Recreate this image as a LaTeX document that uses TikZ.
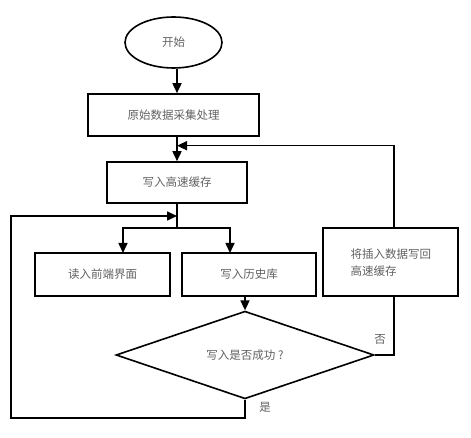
\documentclass[tikz,border=0pt]{standalone}
\usepackage{fontspec}
\setmainfont{Noto Sans CJK SC}
\usetikzlibrary{shapes.geometric,arrows.meta}
\begin{document}
\begin{tikzpicture}[x=1pt,y=1pt,
  every node/.style={font=\fontsize{11.5}{17}\selectfont, text=black!62},
  box/.style={draw=black, line width=1.6pt, rectangle, inner sep=0pt},
  ln/.style={draw=black, line width=1.6pt},
  arr/.style={ln, -{Triangle[width=9pt,length=10pt]}}]
\useasboundingbox (0,0) rectangle (471,-438);
\node[ellipse, draw=black, line width=1.6pt, minimum width=97, minimum height=51, inner sep=0pt] (start) at (173.5,-42.5) {开始};
\node[box, minimum width=171, minimum height=42] (b1) at (173.5,-115) {原始数据采集处理};
\node[box, minimum width=140, minimum height=41] (b2) at (177,-182.5) {写入高速缓存};
\node[box, minimum width=135, minimum height=43] (b3) at (102.5,-274.5) {读入前端界面};
\node[box, minimum width=134, minimum height=43] (b4) at (249,-274.5) {写入历史库};
\node[diamond, draw=black, line width=1.6pt, minimum width=258, minimum height=66, inner sep=0pt] (dec) at (245,-355) {写入是否成功 ?};
\node[box, minimum width=135, minimum height=68] (b5) at (390.5,-262) {};
\node[align=left, anchor=west] (b5t) at (347,-263) {将插入数据写回\\高速缓存};
\coordinate (j1) at (177,-145.7);
\coordinate (j2) at (177,-228);
\coordinate (j3) at (177,-216);
\coordinate (t3) at (123,-253);
\coordinate (t4) at (230,-253);
\coordinate (r1) at (394,-228);
\coordinate (r2) at (394,-296);
\coordinate (r3) at (394,-355);
\coordinate (d1) at (245,-418);
\coordinate (d2) at (11,-418);
\coordinate (d3) at (11,-216);
\draw[arr] (b2.north |- start.south) -- (b2.north |- b1.north);
\draw[arr] (b1.south -| b2.north) -- (b2.north);
\draw[arr] (r1) |- (j1);
\draw[ln] (b2.south) -- (j2);
\draw[arr] (j2) -| (t3);
\draw[arr] (j2) -| (t4);
\draw[arr] (b4.south -| dec.north) -- (dec.north);
\draw[ln] (dec.east) -- (r3) -- (r2);
\draw[arr] (dec.south) -- (d1) -- (d2) -- (d3) -- (j3);
\node (no) at (380,-339) {否};
\node (yes) at (265,-407) {是};
\end{tikzpicture}
\end{document}
